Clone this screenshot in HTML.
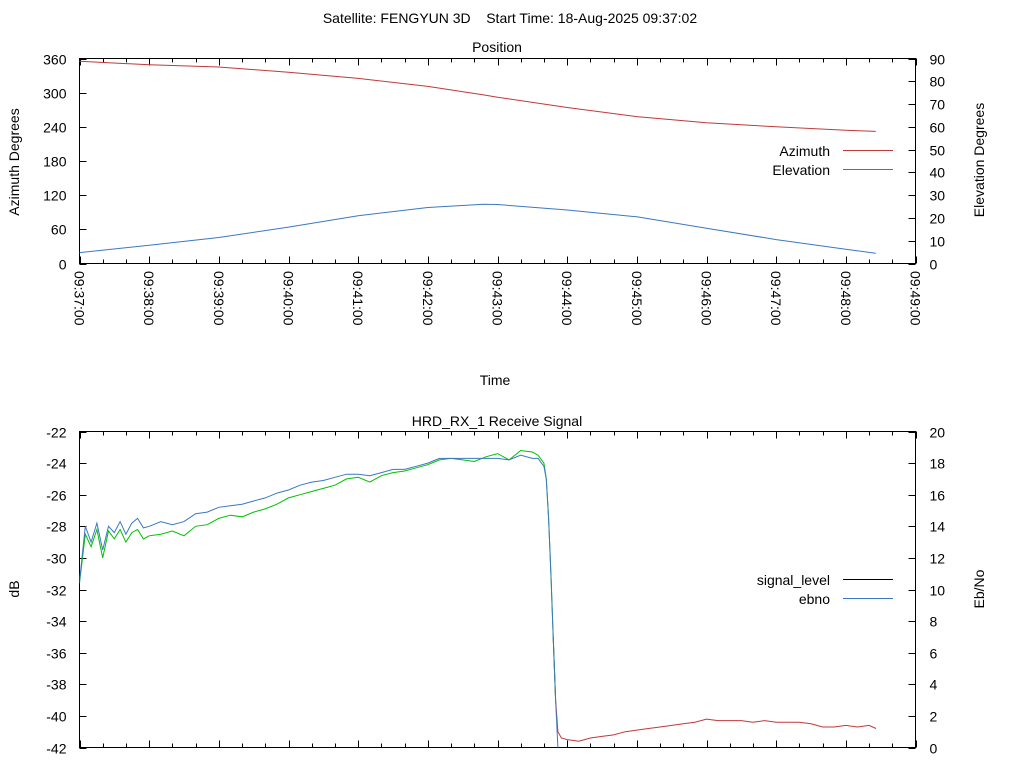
<!DOCTYPE html>
<html><head><meta charset="utf-8"><style>
body{margin:0;background:#fff}
svg{display:block;font-family:"Liberation Sans",sans-serif;font-size:14px}
</style></head><body>
<svg id="c" width="1024" height="768" xmlns="http://www.w3.org/2000/svg">
<rect width="1024" height="768" fill="#fff"/>
<text x="510" y="23" text-anchor="middle">Satellite: FENGYUN 3D&#160;&#160;&#160;&#160;Start Time: 18-Aug-2025 09:37:02</text>
<text x="497" y="52" text-anchor="middle">Position</text>
<text x="495" y="385" text-anchor="middle">Time</text>
<text x="497" y="426" text-anchor="middle">HRD_RX_1 Receive Signal</text>
<text transform="translate(19,162) rotate(-90)" text-anchor="middle">Azimuth Degrees</text>
<text transform="translate(984,160) rotate(-90)" text-anchor="middle">Elevation Degrees</text>
<text transform="translate(19,589) rotate(-90)" text-anchor="middle">dB</text>
<text transform="translate(984,589) rotate(-90)" text-anchor="middle">Eb/No</text>
<g id="gtop"></g><g id="gbot"></g>
<g>
<text x="830" y="156" text-anchor="end">Azimuth</text>
<line x1="843" y1="150.5" x2="893" y2="150.5" stroke="#c0393b"/>
<text x="830" y="175" text-anchor="end">Elevation</text>
<line x1="843" y1="169.5" x2="893" y2="169.5" stroke="#3b78c3"/>
</g>
<g>
<text x="830" y="585" text-anchor="end">signal_level</text>
<line x1="843" y1="579.5" x2="893" y2="579.5" stroke="#000"/>
<text x="830" y="604" text-anchor="end">ebno</text>
<line x1="843" y1="598.5" x2="893" y2="598.5" stroke="#3b78c3"/>
</g>
</svg>
<script>
const NS="http://www.w3.org/2000/svg";
// position data (minutes since 09:37:00)
const posTimes=[0,1,2,3,4,5,5.8,6,7,8,9,10,11,11.43];
const azimuth=[355,349,345,336,325,311,296,292,274,258,247,240,234,232];
const elevation=[4.8,8,11.4,16,21,24.6,26,25.9,23.5,20.5,15.5,10.5,6.3,4.5];
const azTicks=[0,60,120,180,240,300,360];
const elTicks=[0,10,20,30,40,50,60,70,80,90];
const timeLabels=["09:37:00","09:38:00","09:39:00","09:40:00","09:41:00","09:42:00","09:43:00","09:44:00","09:45:00","09:46:00","09:47:00","09:48:00","09:49:00"];
// signal data (seconds since 09:37:00)
const sigTimes=[0,5,10,15,20,25,30,35,40,45,50,55,60,70,80,90,100,110,120,130,140,150,160,170,180,190,200,210,220,230,240,250,260,270,280,290,300,310,320,330,340,350,360,370,380,390,395,400,402,404,406,408,410];
const signalLevel=[-31.6,-28.5,-29.3,-28.2,-30.0,-28.3,-28.8,-28.2,-29.0,-28.4,-28.2,-28.8,-28.6,-28.5,-28.3,-28.6,-28.0,-27.9,-27.5,-27.3,-27.4,-27.1,-26.9,-26.6,-26.2,-26.0,-25.8,-25.6,-25.4,-25.0,-24.9,-25.2,-24.8,-24.6,-24.5,-24.3,-24.1,-23.8,-23.7,-23.8,-23.9,-23.6,-23.4,-23.8,-23.2,-23.3,-23.5,-24.0,-25.0,-27.5,-31.0,-35.0,-39.0];
const ebnoTimes=[0,5,10,15,20,25,30,35,40,45,50,55,60,70,80,90,100,110,120,130,140,150,160,170,180,190,200,210,220,230,240,250,260,270,280,290,300,310,320,330,340,350,360,370,380,390,395,400,402,404,406,408,410,412,414];
const ebno=[10.5,14.0,13.0,14.2,12.5,14.0,13.6,14.3,13.5,14.2,14.5,13.9,14.0,14.3,14.1,14.3,14.8,14.9,15.2,15.3,15.4,15.6,15.8,16.1,16.3,16.6,16.8,16.9,17.1,17.3,17.3,17.2,17.4,17.6,17.6,17.8,18.0,18.3,18.3,18.3,18.3,18.3,18.3,18.2,18.5,18.3,18.3,17.8,17.0,14.5,11.0,7.0,3.0,0,-1];
const tailTimes=[408,410,412,415,420,430,440,450,460,470,480,490,500,510,520,530,540,550,560,570,580,590,600,610,620,630,640,650,660,670,680,686];
const tailLevel=[-35,-39,-41.0,-41.4,-41.5,-41.6,-41.4,-41.3,-41.2,-41.0,-40.9,-40.8,-40.7,-40.6,-40.5,-40.4,-40.2,-40.3,-40.3,-40.3,-40.4,-40.3,-40.4,-40.4,-40.4,-40.5,-40.7,-40.7,-40.6,-40.7,-40.6,-40.8];
const dbTicks=[-42,-40,-38,-36,-34,-32,-30,-28,-26,-24,-22];
const ebTicks=[0,2,4,6,8,10,12,14,16,18,20];

const L=79.5,R=915.5;
const xMin=m=>L+(R-L)*m/12;
const xSec=s=>xMin(s/60);
const PT={top:58.5,bot:263.5}, PB={top:431.5,bot:747.5};
const yAz=v=>PT.bot-(PT.bot-PT.top)*v/360;
const yEl=v=>PT.bot-(PT.bot-PT.top)*v/90;
const yDb=v=>PB.bot-(PB.bot-PB.top)*(v+42)/20;
const yEb=v=>PB.bot-(PB.bot-PB.top)*v/20;

function mk(parent,tag,attrs,name){const e=document.createElementNS(NS,tag);for(const k in attrs)e.setAttribute(k,attrs[k]);


parent.appendChild(e);return e;}
function frame(g,P,pfx){
  mk(g,'rect',{x:L,y:P.top,width:R-L,height:P.bot-P.top,fill:'none',stroke:'#000','stroke-width':1},pfx+'-plot-frame');
  for(let i=0;i<=36;i++){const x=Math.round(xMin(i/3))+0.5;const len=i%3===0?7:4;
    mk(g,'line',{x1:x,y1:P.bot,x2:x,y2:P.bot-len,stroke:'#000'},pfx+'-x-tick');
    mk(g,'line',{x1:x,y1:P.top,x2:x,y2:P.top+len,stroke:'#000'},pfx+'-x-tick-top');}
}
function ticks(g,vals,yf,left,pfx){
  vals.forEach(v=>{const y=Math.round(yf(v))+0.5;
    if(left){mk(g,'line',{x1:L,y1:y,x2:L+7,y2:y,stroke:'#000'},pfx+'-tick');
      const t=mk(g,'text',{x:L-13,y:y+5,'text-anchor':'end'},pfx+'-tick-label');t.textContent=v;}
    else{mk(g,'line',{x1:R,y1:y,x2:R-7,y2:y,stroke:'#000'},pfx+'-tick');
      const t=mk(g,'text',{x:R+14,y:y+5,'text-anchor':'start'},pfx+'-tick-label');t.textContent=v;}
  });
}
function line(g,ts,vs,xf,yf,color,name){
  const d=ts.map((t,i)=>(i?'L':'M')+xf(t).toFixed(1)+','+yf(vs[i]).toFixed(1)).join('');
  mk(g,'path',{d:d,fill:'none',stroke:color,'stroke-width':1},name);
}
const gTop=document.getElementById('gtop'),gBot=document.getElementById('gbot');
frame(gTop,PT,'position');frame(gBot,PB,'signal');
ticks(gTop,azTicks,yAz,true,'azimuth-axis');ticks(gTop,elTicks,yEl,false,'elevation-axis');
ticks(gBot,dbTicks,yDb,true,'db-axis');ticks(gBot,ebTicks,yEb,false,'ebno-axis');
timeLabels.forEach((s,i)=>{const x=xMin(i);
  const t=mk(gTop,'text',{transform:`translate(${x-5},271) rotate(90)`,'text-anchor':'start'},'time-tick-label');t.textContent=s;});
line(gTop,posTimes,azimuth,xMin,yAz,'#c0393b','azimuth-line');
line(gTop,posTimes,elevation,xMin,yEl,'#3b78c3','elevation-line');
const defs=mk(gBot,'defs',{},'signal-defs');
const clip=mk(defs,'clipPath',{id:'cl'},'signal-clip');
mk(clip,'rect',{x:L,y:PB.top,width:R-L,height:PB.bot-PB.top},'signal-clip-rect');
const cg=mk(gBot,'g',{'clip-path':'url(#cl)'},'signal-series');
line(cg,tailTimes,tailLevel,xSec,yDb,'#c0393b','signal-lost-line');
line(cg,sigTimes,signalLevel,xSec,yDb,'#00c000','signal-level-line');
line(cg,ebnoTimes,ebno,xSec,yEb,'#3b78c3','ebno-line');
</script>
</body></html>
